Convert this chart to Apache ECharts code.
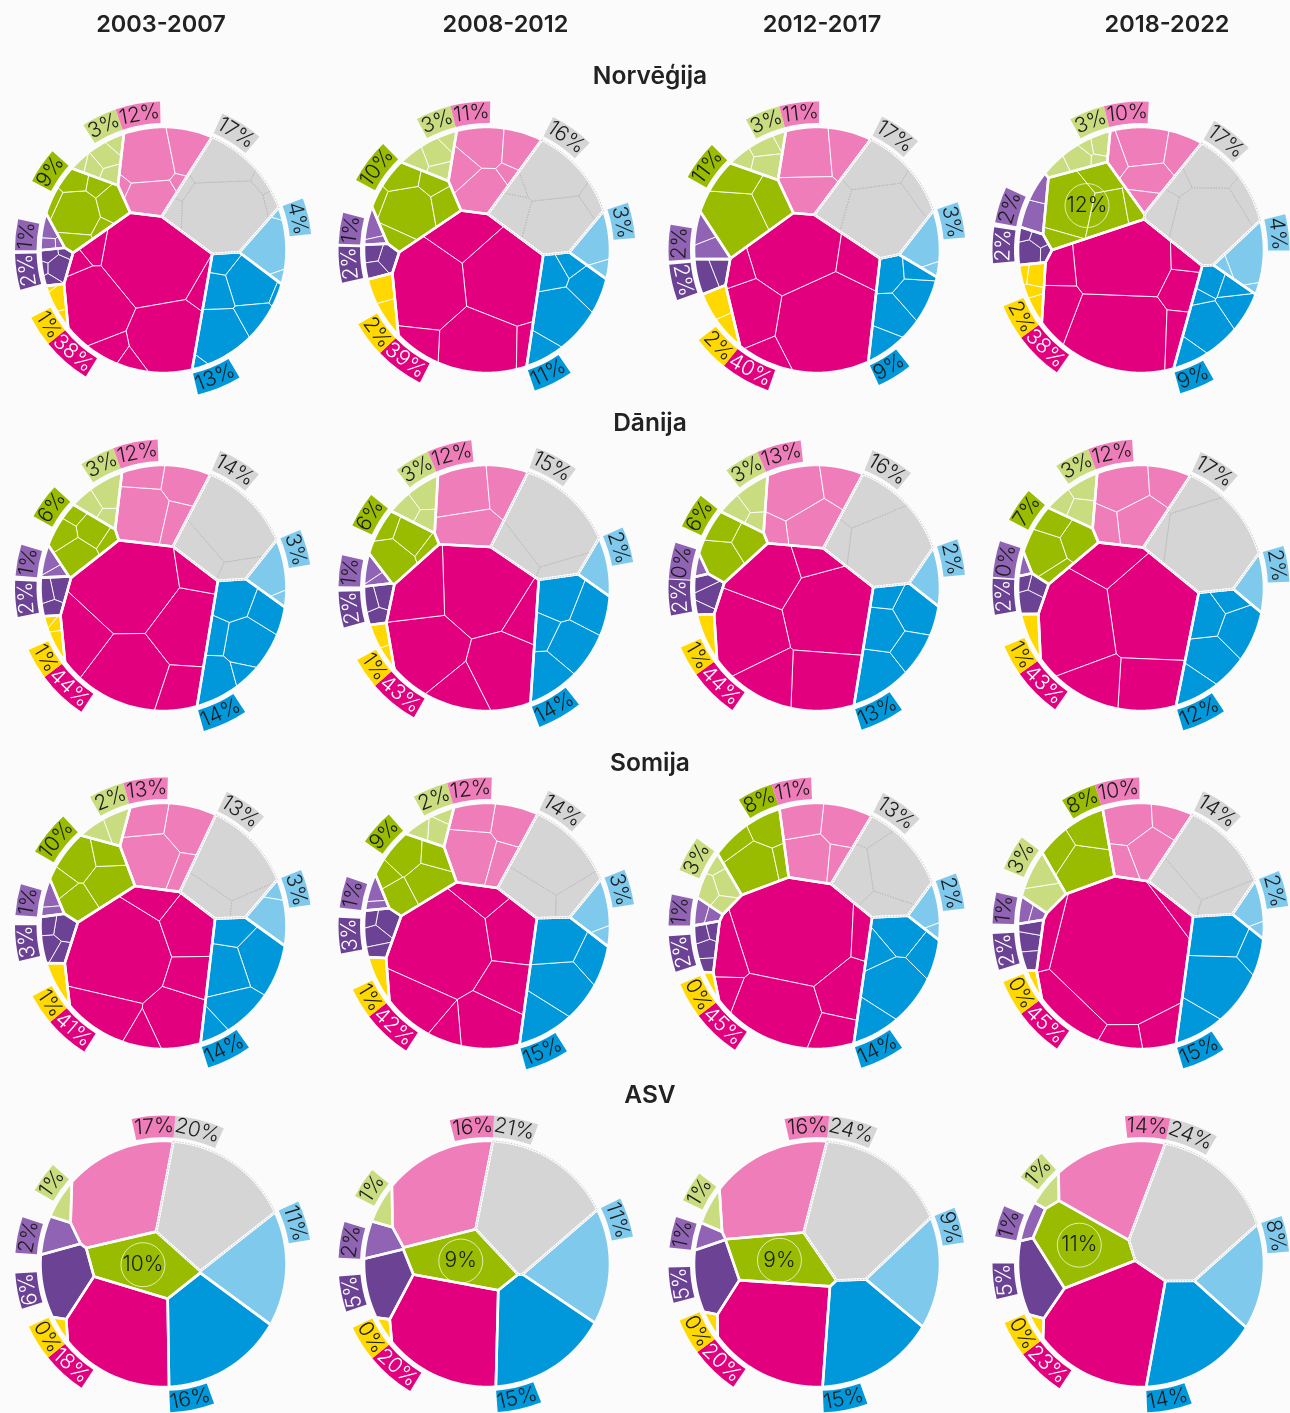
<!DOCTYPE html>
<html><head><meta charset="utf-8">
<style>html,body{margin:0;padding:0;background:#fbfbfb}#c{width:1290px;height:1413px}</style>
<script src="https://cdn.jsdelivr.net/npm/echarts@6/dist/echarts.min.js"></script>
</head><body><div id="c"></div>
<script>
const periods=['2003-2007','2008-2012','2012-2017','2018-2022'];
const countries=['Norvēģija','Dānija','Somija','ASV'];
// order around the circle, clockwise from the top
const groups=['gray','lightBlue','blue','magenta','yellow','darkPurple','lightPurple','green','lightGreen','pink'];
const groupColors=['#d5d5d5','#7fc9ec','#0098da','#e2007f','#ffd800','#6c4394','#9063b4','#99bc00','#c9dc80','#ef7dba'];
const norvegija=[[17,4,13,38,1,2,1,9,3,12],[16,3,11,39,2,2,1,10,3,11],[17,3,9,40,2,2,2,11,3,11],[17,4,9,38,2,2,2,12,3,10]];
const danija=[[14,3,14,44,1,2,1,6,3,12],[15,2,14,43,1,2,1,6,3,12],[16,2,13,44,1,2,0,6,3,13],[17,2,12,43,1,2,0,7,3,12]];
const somija=[[13,3,14,41,1,3,1,10,2,13],[14,3,15,42,1,3,1,9,2,12],[13,2,14,45,0,2,1,8,3,11],[14,2,15,45,0,2,1,8,3,10]];
const asv=[[20,11,16,18,0,6,2,10,1,17],[21,11,15,20,0,5,2,9,1,16],[24,9,15,20,0,5,1,9,1,16],[24,8,14,23,0,5,1,11,1,14]];
// shares of the smaller cells inside each group
const subNorvegija=[
[[62,24,5,3,3,3],[90,6,4],[34,28,14,12,8,2,2],[40,22,24,3,4,3,2,2],[70,20,10],[45,20,15,12,8],[50,35,15],[40,20,12,10,8,5,5],[35,20,20,15,10],[45,25,24,3,3]],
[[40,35,15,6,4],[85,15],[45,20,15,12,8],[30,28,22,12,5,3],[60,40],[40,30,30],[70,30],[45,15,15,10,10,5],[40,25,20,15],[30,30,20,15,5]],
[[55,25,12,8],[90,10],[30,25,20,15,10],[42,28,14,8,4,4],[65,35],[60,40],[60,40],[55,25,20],[40,30,20,10],[45,30,25]],
[[55,20,12,8,5],[85,10,5],[40,18,15,12,10,5],[37,33,9,7,6,5,3],[40,25,20,15],[50,20,15,15],[65,35],[45,25,15,8,7],[35,25,20,10,10],[35,25,20,12,8]]];
const subDanija=[
[[70,20,10],[90,10],[28,22,20,15,10,5],[35,22,18,12,8,5],[50,30,20],[40,30,30],[60,40],[35,25,20,10,10],[50,30,20],[45,25,15,15]],
[[75,15,10],[100],[25,25,20,20,10],[30,22,20,14,8,6],[70,30],[40,30,30],[60,40],[45,30,15,10],[45,30,25],[40,35,25]],
[[65,25,10],[100],[28,25,22,15,10],[30,22,18,15,10,5],[100],[50,30,20],[100],[45,30,25],[50,30,20],[40,30,20,10]],
[[80,12,8],[100],[30,25,20,15,10],[35,30,15,10,10],[100],[50,30,20],[100],[40,30,20,10],[40,35,25],[35,30,20,15]]];
const subSomija=[
[[70,20,10],[85,15],[30,25,22,15,8],[42,15,13,12,8,6,4],[100],[35,25,20,20],[60,40],[30,25,20,15,10],[60,40],[40,30,20,10]],
[[60,25,15],[85,15],[35,30,20,15],[40,15,13,12,10,6,4],[100],[35,30,20,15],[60,40],[30,25,20,15,10],[50,30,20],[40,25,20,15]],
[[50,25,15,10],[85,15],[40,22,15,13,10],[48,22,10,7,6,4,3],[100],[35,25,20,20],[60,40],[50,25,15,10],[35,30,20,15],[35,30,25,10]],
[[65,20,15],[85,15],[45,30,15,10],[72,10,6,5,4,3],[100],[40,30,30],[60,40],[50,30,20],[55,45],[35,30,20,15]]];
// layout hints
const startAngles=[[22,25,24,24],[23,20,22,23],[25,24,26,24],[3,0,-1,2]];
const arcFactors=[.93,1.15,1.25,.92,1.5,.95,1.5,.5,1.25,.92];
const labelAnchors=['start','start','end','end','start','mid','start','end','end','start'];
const columnCenters=[163.5,487,817,1141];
const rowCenters=[250,588,926,1264];
const headerX=[156,500.5,817,1162];
const rowTitleY=[75,422,762,1094];
const RADIUS=123;
// panels with a group that sits inside the circle: row, col -> seat in unit coordinates
const innerSeats={'0,3':[-.33,.38],'3,0':[-.08,0],'3,1':[-.11,.06],'3,2':[-.2,.06],'3,3':[-.45,.13]};
// panels in which light green comes before green
const swapGreen={'2,2':1,'2,3':1};

const clip=(poly,a,b,c)=>{const o=[];for(let i=0;i<poly.length;i++){const p=poly[i],q=poly[(i+1)%poly.length];
  const dp=a*p[0]+b*p[1]-c,dq=a*q[0]+b*q[1]-c;
  if(dp<=0)o.push(p);
  if((dp<0&&dq>0)||(dp>0&&dq<0)){const t=dp/(dp-dq);o.push([p[0]+t*(q[0]-p[0]),p[1]+t*(q[1]-p[1])]);}}
  return o;};
const area=poly=>{let s=0;for(let i=0;i<poly.length;i++){const p=poly[i],q=poly[(i+1)%poly.length];s+=p[0]*q[1]-q[0]*p[1];}return Math.abs(s)/2;};
const centroid=poly=>{let s=0,x=0,y=0;for(let i=0;i<poly.length;i++){const p=poly[i],q=poly[(i+1)%poly.length],k=p[0]*q[1]-q[0]*p[1];s+=k;x+=(p[0]+q[0])*k;y+=(p[1]+q[1])*k;}
  if(Math.abs(s)<1e-12)return poly.length?poly[0].slice():[0,0];return [x/(3*s),y/(3*s)];};
function powerCells(boundary,sites,w){return sites.map((si,i)=>{let poly=boundary;
  for(let j=0;j<sites.length&&poly.length;j++){if(j===i)continue;const sj=sites[j];
    const a=2*(sj[0]-si[0]),b=2*(sj[1]-si[1]),c=sj[0]*sj[0]+sj[1]*sj[1]-si[0]*si[0]-si[1]*si[1]-w[j]+w[i];
    poly=clip(poly,a,b,c);}
  return poly;});}
function solve(boundary,sites,targets,iters,lloyd){const w=sites.map(()=>0);let cells;
  for(let k=0;k<iters;k++){cells=powerCells(boundary,sites,w);
    cells.forEach((c,i)=>{w[i]+=0.22*(targets[i]-area(c));
      if(lloyd&&c.length&&k<iters*0.7){const m=centroid(c);sites[i][0]+=lloyd*(m[0]-sites[i][0]);sites[i][1]+=lloyd*(m[1]-sites[i][1]);}});}
  return powerCells(boundary,sites,w);}
const disk=[];for(let i=0;i<360;i++){const a=i/360*2*Math.PI;disk.push([Math.sin(-a),Math.cos(a)]);}
disk.reverse();

function layoutPanel(r,c,values,subs){
  const order=groups.map((_,i)=>i);
  const swapped=swapGreen[r+','+c];
  if(swapped){order[7]=8;order[8]=7;}
  const seat=innerSeats[r+','+c];
  const ring=order.filter(g=>!(seat&&g===7));
  const shares=values.map(v=>Math.max(v,0.35));
  const total=shares.reduce((a,b)=>a+b,0);
  const factor=g=>{if(swapped&&g===7)return 1;if(swapped&&g===8)return .8;if(r===3&&g===0)return 1.12;return arcFactors[g];};
  const spans=ring.map(g=>Math.sqrt(shares[g])*factor(g));
  const spanSum=spans.reduce((a,b)=>a+b,0);
  let ang=startAngles[r][c];
  const siteOf={};
  ring.forEach((g,i)=>{const d=spans[i]/spanSum*360,m=(ang+d/2)*Math.PI/180;ang+=d;
    const rad=Math.min(.93,Math.max(.12,1-1.1*Math.sqrt(shares[g]/total)));
    siteOf[g]=[Math.sin(m)*rad,Math.cos(m)*rad];});
  if(seat)siteOf[7]=seat.slice();
  const sites=groups.map((_,g)=>siteOf[g]);
  const targets=shares.map(s=>s/total*Math.PI);
  const cells=solve(disk,sites,targets,500,0);
  const subCells=cells.map((poly,g)=>{
    const list=subs?subs[g]:[100];
    if(list.length<2||!poly.length)return [poly];
    const m=centroid(poly),size=Math.sqrt(area(poly)/Math.PI);
    const ss=list.map((_,i)=>{const a=2.39996*(i+g+r*3+c*5),q=size*.8*Math.sqrt((i+.3)/list.length);
      return [m[0]+Math.cos(a)*q,m[1]+Math.sin(a)*q];});
    const sum=list.reduce((a,b)=>a+b,0),A=area(poly);
    return solve(poly,ss,list.map(v=>v/sum*A),160,.25);
  });
  return {cells,subCells,seat};
}
const measure=document.createElement('canvas').getContext('2d');
const FONT='300 21px Inter';
measure.font=FONT;
function arcRange(poly){const a=[];poly.forEach(p=>{if(Math.hypot(p[0],p[1])>.9995){let t=Math.atan2(p[0],p[1]);if(t<0)t+=2*Math.PI;a.push(t);}});
  if(!a.length)return null;a.sort((x,y)=>x-y);let best=0,at=0;
  for(let i=0;i<a.length;i++){const g=(i+1<a.length?a[i+1]:a[0]+2*Math.PI)-a[i];if(g>best){best=g;at=i;}}
  return {start:a[(at+1)%a.length],span:2*Math.PI-best};}

const grids=[],xAxes=[],yAxes=[],series=[];
const titles=[];
periods.forEach((p,i)=>titles.push({text:p,left:headerX[i],top:8,textAlign:'center',textStyle:{fontFamily:'Inter',fontWeight:600,fontSize:23.5,color:'#222'}}));
countries.forEach((p,i)=>titles.push({text:p,left:645,top:rowTitleY[i]-16,textAlign:'center',textStyle:{fontFamily:'Inter',fontWeight:600,fontSize:24.5,color:'#222'}}));
const SPAN=1;
const LR=RADIUS+14.5;
[norvegija,danija,somija,asv].forEach((rows,r)=>{
  rows.forEach((values,c)=>{
    const subs=[subNorvegija,subDanija,subSomija,null][r];
    const L=layoutPanel(r,c,values,subs?subs[c]:null);
    const idx=grids.length,side=2*SPAN*RADIUS;
    grids.push({left:columnCenters[c]-side/2,top:rowCenters[r]-side/2,width:side,height:side});
    xAxes.push({type:'value',gridIndex:idx,min:-SPAN,max:SPAN,show:false});
    yAxes.push({type:'value',gridIndex:idx,min:-SPAN,max:SPAN,show:false});
    const marks=[];
    L.subCells.forEach((list,g)=>list.forEach(poly=>{if(poly.length>2)marks.push({poly,g,kind:'cell'});}));
    L.cells.forEach((poly,g)=>{if(poly.length>2)marks.push({poly,g,kind:'outline'});});
    marks.push({poly:L.cells[0],g:0,kind:'grayEdge'});
    series.push({type:'custom',coordinateSystem:'cartesian2d',xAxisIndex:idx,yAxisIndex:idx,silent:true,clip:false,animation:false,
      data:marks.map(m=>centroid(m.poly)),
      renderItem:(params,api)=>{const m=marks[params.dataIndex];
        const pts=m.poly.map(p=>api.coord(p));
        if(m.kind==='outline')return {type:'polygon',shape:{points:pts},style:{fill:'none',stroke:'#fbfbfb',lineWidth:2.6,lineJoin:'round'}};
        if(m.kind==='grayEdge')return {type:'polygon',shape:{points:pts},style:{fill:'none',stroke:'#a8a8a8',lineWidth:.6,lineDash:[1.5,1.5]}};
        const gray=m.g===0;
        return {type:'polygon',shape:{points:pts},style:{fill:groupColors[m.g],stroke:gray?'#b0b0b0':'rgba(255,255,255,.85)',lineWidth:gray?.8:1,lineDash:gray?[1.5,1.2]:null}};
      }});
    // labels
    const labels=[];
    groups.forEach((_,g)=>{const text=values[g]+'%';
      if(L.seat&&g===7){labels.push({g,text,inner:true,at:centroid(L.cells[g])});return;}
      const R=arcRange(L.cells[g]);
      if(!R)return;
      const w=measure.measureText(text).width+1,half=w/2/LR;
      let anchor=labelAnchors[g];
      if(g===9&&R.span>50*Math.PI/180)anchor='end';
      let mid=R.start+R.span/2;
      if(R.span>2*half){if(anchor==='start')mid=R.start+half;if(anchor==='end')mid=R.start+R.span-half;}
      labels.push({g,text,mid:mid%(2*Math.PI),w});});
    const ringLabels=labels.filter(l=>!l.inner).sort((a,b)=>a.mid-b.mid);
    for(let it=0;it<80;it++)for(let i=0;i<ringLabels.length;i++){const a=ringLabels[i],b=ringLabels[(i+1)%ringLabels.length];
      let d=b.mid-a.mid;if(i===ringLabels.length-1)d+=2*Math.PI;
      const need=(a.w+b.w)/2/LR;if(d<need){const s=(need-d)/2;a.mid-=s;b.mid+=s;}}
    series.push({type:'custom',coordinateSystem:'cartesian2d',xAxisIndex:idx,yAxisIndex:idx,silent:true,clip:false,animation:false,z:5,
      data:labels.map(l=>l.inner?l.at:[Math.sin(l.mid),Math.cos(l.mid)]),
      renderItem:(params,api)=>{const l=labels[params.dataIndex];
        const ink=(l.g===3||l.g===5)?'#fff':'#1c1c1c';
        if(l.inner){const p=api.coord(l.at);return {type:'group',children:[
          {type:'circle',shape:{cx:p[0],cy:p[1],r:22},style:{fill:'none',stroke:'rgba(255,255,255,.7)',lineWidth:1}},
          {type:'text',x:p[0],y:p[1],style:{text:l.text,font:FONT,fill:ink,align:'center',verticalAlign:'middle'}}]};}
        const o=api.coord([0,0]);let a=l.mid;if(a<0)a+=2*Math.PI;
        const half=l.w/2/LR,deg=a*180/Math.PI;
        const flip=deg>100&&deg<258;
        const rot=flip?a-Math.PI:a;
        return {type:'group',children:[
          {type:'sector',shape:{cx:o[0],cy:o[1],r0:RADIUS+4,r:RADIUS+25.5,startAngle:a-half-Math.PI/2,endAngle:a+half-Math.PI/2,clockwise:true},style:{fill:groupColors[l.g]}},
          {type:'text',x:o[0]+Math.sin(a)*LR,y:o[1]-Math.cos(a)*LR,rotation:-rot,style:{text:l.text,font:FONT,fill:ink,align:'center',verticalAlign:'middle'}}]};
      }});
  });
});
const chart=echarts.init(document.getElementById('c'),null,{renderer:'canvas'});
chart.setOption({backgroundColor:'#fbfbfb',animation:false,title:titles,grid:grids,xAxis:xAxes,yAxis:yAxes,series});
</script></body></html>
